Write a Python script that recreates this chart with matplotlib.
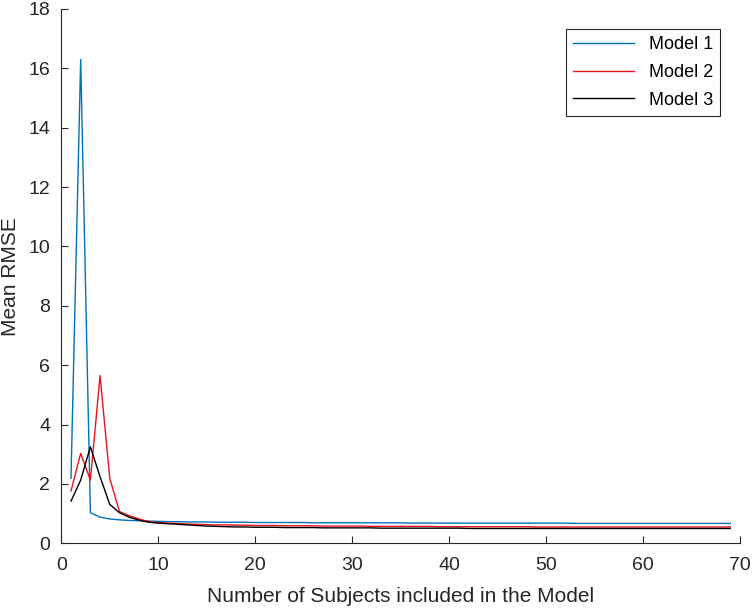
import numpy as np
import matplotlib.pyplot as plt

plt.rcParams['font.family'] = ['Liberation Sans', 'DejaVu Sans']

# number of subjects included in the model
subjects = list(range(1, 70))

model1 = [2.19, 16.3, 1.03, 0.88, 0.82, 0.79, 0.77, 0.76, 0.75, 0.74,
          0.73, 0.73, 0.72, 0.72, 0.72, 0.71, 0.71, 0.71, 0.71, 0.70,
          0.70, 0.70, 0.70, 0.70, 0.70, 0.69, 0.69, 0.69, 0.69, 0.69,
          0.69, 0.69, 0.69, 0.69, 0.69, 0.68, 0.68, 0.68, 0.68, 0.68,
          0.68, 0.68, 0.68, 0.68, 0.68, 0.68, 0.68, 0.68, 0.68, 0.68,
          0.68, 0.68, 0.67, 0.67, 0.67, 0.67, 0.67, 0.67, 0.67, 0.67,
          0.67, 0.67, 0.67, 0.67, 0.67, 0.67, 0.67, 0.67, 0.67]
model2 = [1.76, 3.03, 2.13, 5.65, 2.19, 1.07, 0.93, 0.82, 0.73, 0.70,
          0.68, 0.67, 0.65, 0.64, 0.63, 0.62, 0.62, 0.61, 0.61, 0.60,
          0.60, 0.60, 0.59, 0.59, 0.59, 0.59, 0.58, 0.58, 0.58, 0.58,
          0.58, 0.57, 0.57, 0.57, 0.57, 0.57, 0.57, 0.57, 0.56, 0.56,
          0.56, 0.56, 0.56, 0.56, 0.56, 0.56, 0.56, 0.56, 0.55, 0.55,
          0.55, 0.55, 0.55, 0.55, 0.55, 0.55, 0.55, 0.55, 0.55, 0.55,
          0.55, 0.55, 0.55, 0.55, 0.55, 0.55, 0.55, 0.55, 0.55]
model3 = [1.42, 2.13, 3.25, 2.24, 1.31, 1.03, 0.88, 0.78, 0.71, 0.68,
          0.66, 0.64, 0.62, 0.60, 0.58, 0.57, 0.56, 0.55, 0.55, 0.54,
          0.54, 0.54, 0.53, 0.53, 0.53, 0.53, 0.52, 0.52, 0.52, 0.52,
          0.52, 0.52, 0.51, 0.51, 0.51, 0.51, 0.51, 0.51, 0.51, 0.51,
          0.51, 0.50, 0.50, 0.50, 0.50, 0.50, 0.50, 0.50, 0.50, 0.50,
          0.50, 0.50, 0.50, 0.50, 0.50, 0.50, 0.50, 0.50, 0.50, 0.50,
          0.50, 0.50, 0.50, 0.50, 0.50, 0.50, 0.50, 0.50, 0.50]

fig = plt.figure(figsize=(7.53, 6.11), dpi=100)
ax = fig.add_axes([0.0814, 0.1108, 0.9013, 0.8745])

ax.plot(subjects, model1, color='#0072BD', lw=1.0, label='Model 1')
ax.plot(subjects, model2, color='#E8121A', lw=1.0, label='Model 2')
ax.plot(subjects, model3, color='black', lw=1.0, label='Model 3')

ax.set_xlim(0, 70)
ax.set_ylim(0, 18)
ax.set_xticks(range(0, 71, 10))
ax.set_yticks(range(0, 19, 2))
ax.tick_params(direction='in', length=5, labelsize=14, colors='#262626',
               width=0.8)
ax.tick_params(axis='x', pad=10)
ax.tick_params(axis='y', pad=8)
for s in ['top', 'right']:
    ax.spines[s].set_visible(False)
for s in ['left', 'bottom']:
    ax.spines[s].set_color('#262626')
    ax.spines[s].set_linewidth(0.8)

ax.set_xlabel('Number of Subjects included in the Model', fontsize=15, color='#262626', labelpad=9)
ax.set_ylabel('Mean RMSE', fontsize=15, color='#262626', labelpad=6)

leg = ax.legend(loc='upper right', fontsize=13, fancybox=False, framealpha=1,
                edgecolor='#262626', handlelength=3.4, borderaxespad=1.1,
                labelspacing=0.6)
leg.get_frame().set_linewidth(0.8)

fig.savefig('out.png', dpi=100)
